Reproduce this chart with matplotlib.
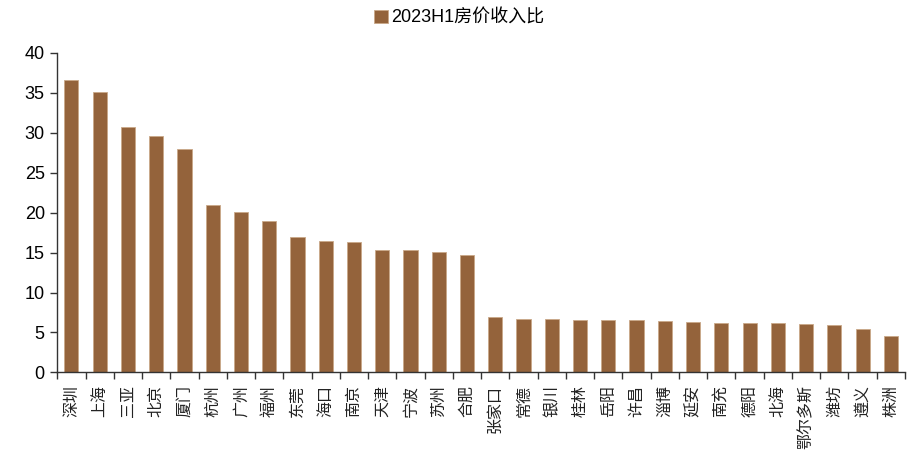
import matplotlib
matplotlib.use("Agg")
import matplotlib.pyplot as plt
from matplotlib.ticker import FixedLocator, NullFormatter

cities = ["深圳", "上海", "三亚", "北京", "厦门", "杭州", "广州", "福州", "东莞", "海口",
          "南京", "天津", "宁波", "苏州", "合肥", "张家口", "常德", "银川", "桂林", "岳阳",
          "许昌", "淄博", "延安", "南充", "德阳", "北海", "鄂尔多斯", "潍坊", "遵义", "株洲"]
ratio_2023h1 = [36.6, 35.1, 30.7, 29.6, 28.0, 21.0, 20.1, 19.0, 17.0, 16.5,
                16.3, 15.3, 15.3, 15.1, 14.7, 6.9, 6.7, 6.7, 6.6, 6.6,
                6.5, 6.4, 6.3, 6.2, 6.2, 6.2, 6.1, 5.9, 5.4, 4.6]
series_name = "2023H1房价收入比"
yticks = [0, 5, 10, 15, 20, 25, 30, 35, 40]

bar_color = "#94633B"
cjk = ["Noto Sans CJK SC", "DejaVu Sans"]
latin_cjk = ["Liberation Sans", "Noto Sans CJK SC"]

fig = plt.figure(figsize=(9.08, 4.57), dpi=100)
ax = fig.add_axes([0.0631, 0.185, 0.9336, 0.6998])

x = list(range(len(cities)))
bars = ax.bar(x, ratio_2023h1, width=0.5, color=bar_color,
              edgecolor="#C9A888", linewidth=0.6, label=series_name, zorder=2)

ax.set_xlim(-0.5, len(cities) - 0.5)
ax.set_ylim(0, 40)
ax.set_yticks(yticks)
ax.set_yticklabels([str(v) for v in yticks], fontfamily="Liberation Sans", fontsize=13)

ax.set_xticks(x)
ax.set_xticklabels(cities, rotation=90, fontfamily=cjk, fontsize=11.5,
                   fontweight="light", color="#222222")
ax.xaxis.set_minor_locator(FixedLocator([i - 0.5 for i in range(len(cities) + 1)]))
ax.xaxis.set_minor_formatter(NullFormatter())
ax.tick_params(axis="x", which="major", length=0, pad=9)
ax.tick_params(axis="x", which="minor", length=5, width=1, direction="out", color="#333333")
ax.tick_params(axis="y", length=5, width=1, direction="out", color="#333333", pad=4)

for side in ("top", "right"):
    ax.spines[side].set_visible(False)
for side in ("left", "bottom"):
    ax.spines[side].set_color("#333333")
    ax.spines[side].set_linewidth(1)

leg = fig.legend(handles=[bars], labels=[series_name], loc="center",
                 bbox_to_anchor=(0.506, 0.96), frameon=False,
                 handlelength=0.75, handleheight=0.75, handletextpad=0.2,
                 prop={"family": latin_cjk, "size": 13})

fig.savefig("out.png", dpi=100)
